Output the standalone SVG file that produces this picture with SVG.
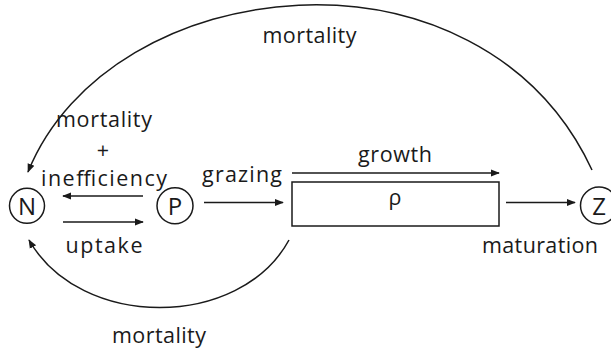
<svg xmlns="http://www.w3.org/2000/svg" width="611" height="354" viewBox="0 0 611 354">
<defs>
<style>
text{font-family:"Open Sans","Liberation Sans",Arial,sans-serif;font-weight:400;font-size:21.5px;fill:#1a1a1a;text-anchor:middle}
.node text{font-size:24px}
.node circle{fill:none;stroke:#1a1a1a;stroke-width:1.5}
.conn path,.conn line{fill:none;stroke:#1a1a1a;stroke-width:1.5}
.box{fill:none;stroke:#1a1a1a;stroke-width:1.5}
</style>
<marker id="ah" viewBox="0 0 10 10" refX="9" refY="5" markerWidth="9" markerHeight="9" markerUnits="userSpaceOnUse" orient="auto">
<path d="M0,1 L10,5 L0,9 Z" fill="#1a1a1a"/>
</marker>
</defs>
<rect width="611" height="354" fill="#fff"/>
<g id="N" class="node"><circle cx="27" cy="205.8" r="17.5"/><text x="27" y="215">N</text></g>
<g id="P" class="node"><circle cx="175" cy="205.8" r="18"/><text x="175" y="215">P</text></g>
<g id="Z" class="node"><circle cx="599" cy="205.5" r="18.5"/><text x="599" y="215">Z</text></g>
<g id="rho" class="node"><rect class="box" x="292" y="182" width="207" height="44"/><text x="395" y="205" style="font-size:21.5px">ρ</text></g>
<g id="connectors" class="conn">
<path d="M592,170 C480,-70 110,-30 28,172" marker-end="url(#ah)"/>
<path d="M289,240 C240,330 80,330 29,240" marker-end="url(#ah)"/>
<line x1="143" y1="196" x2="63" y2="196" marker-end="url(#ah)"/>
<line x1="63" y1="222" x2="143" y2="222" marker-end="url(#ah)"/>
<line x1="204" y1="202.5" x2="283" y2="202.5" marker-end="url(#ah)"/>
<line x1="292" y1="173" x2="499" y2="173" marker-end="url(#ah)"/>
<line x1="506" y1="202.5" x2="575" y2="202.5" marker-end="url(#ah)"/>
</g>
<g id="labels">
<text x="309.5" y="43.3" textLength="94">mortality</text>
<text x="104" y="126.7" textLength="96">mortality</text>
<text x="103" y="158">+</text>
<text x="104" y="186" textLength="126">inefficiency</text>
<text x="242" y="181.7" textLength="80">grazing</text>
<text x="104" y="253.3" textLength="77">uptake</text>
<text x="395" y="162.3" textLength="74">growth</text>
<text x="540" y="253" textLength="116">maturation</text>
<text x="159" y="343" textLength="94">mortality</text>
</g>
</svg>
